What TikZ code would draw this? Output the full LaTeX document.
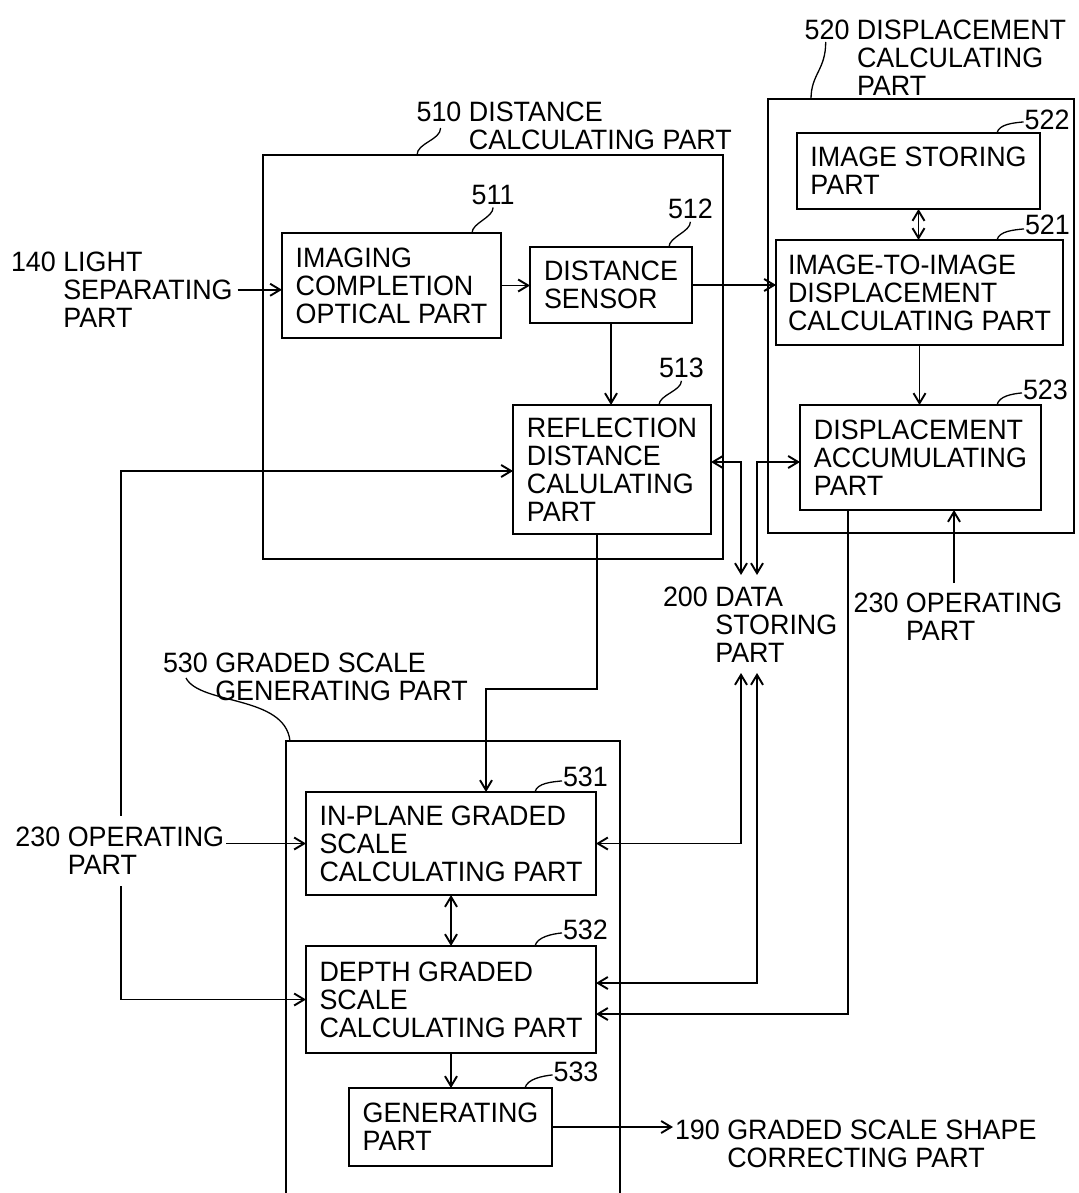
\documentclass[tikz,border=0pt]{standalone}
\usepackage{fontspec}
\setmainfont{Liberation Sans}[FakeStretch=0.96]
\usetikzlibrary{arrows.meta}
\begin{document}
\begin{tikzpicture}[x=1pt,y=-1pt,
  font=\fontsize{28}{28}\selectfont,
  blk/.style={draw, line width=2pt, anchor=north west, align=left, inner sep=0pt, outer sep=0pt},
  txt/.style={anchor=north west, align=left, inner sep=0pt, outer sep=0pt},
  conn/.style={line width=1.9pt, -{Straight Barb[length=10pt,width=12pt]}},
  dconn/.style={line width=1.9pt, {Straight Barb[length=10pt,width=12pt]}-{Straight Barb[length=10pt,width=12pt]}},
  leader/.style={line width=1.3pt}]
\useasboundingbox (0,0) rectangle (1078,1193);

% outer parts
\node[blk, minimum width=460pt, minimum height=404pt] (b510) at (263,155) {};
\node[blk, minimum width=306pt, minimum height=434pt] (b520) at (768,99) {};
\node[blk, minimum width=334pt, minimum height=520pt] (b530) at (286,741) {};

% inner blocks
\node[blk, minimum width=219pt, minimum height=105pt] (b511) at (282,233) {IMAGING\\COMPLETION\\OPTICAL PART};
\node[blk, minimum width=162pt, minimum height=76pt] (b512) at (530,247) {DISTANCE\\SENSOR};
\node[blk, minimum width=198pt, minimum height=129pt] (b513) at (513,405) {REFLECTION\\DISTANCE\\CALULATING\\PART};
\node[blk, minimum width=243pt, minimum height=76pt] (b522) at (797,133) {IMAGE STORING\\PART};
\node[blk, minimum width=287pt, minimum height=105pt] (b521) at (776,240) {IMAGE-TO-IMAGE\\DISPLACEMENT\\CALCULATING PART};
\node[blk, minimum width=241pt, minimum height=105pt] (b523) at (800,405) {DISPLACEMENT\\ACCUMULATING\\PART};
\node[blk, minimum width=290pt, minimum height=103pt] (b531) at (306,792) {IN-PLANE GRADED\\SCALE\\CALCULATING PART};
\node[blk, minimum width=290pt, minimum height=107pt] (b532) at (306,946) {DEPTH GRADED\\SCALE\\CALCULATING PART};
\node[blk, minimum width=203pt, minimum height=78pt] (b533) at (349,1088) {GENERATING\\PART};

% outside labels
\node[txt] (l140) at (11,252) {140 LIGHT\\\hphantom{140}\ SEPARATING\\\hphantom{140}\ PART};
\node[txt] (l510) at (416.6,102) {510 DISTANCE\\\hphantom{510}\ CALCULATING PART};
\node[txt] (l520) at (804.7,20) {520 DISPLACEMENT\\\hphantom{520}\ CALCULATING\\\hphantom{520}\ PART};
\node[txt] (l530) at (163,653) {530 GRADED SCALE\\\hphantom{530}\ GENERATING PART};
\node[txt] (l200) at (663,587) {200 DATA\\\hphantom{200}\ STORING\\\hphantom{200}\ PART};
\node[txt] (l230r) at (853.7,593) {230 OPERATING\\\hphantom{230}\ PART};
\node[txt] (l190) at (675,1120) {190 GRADED SCALE SHAPE\\\hphantom{190}\ CORRECTING PART};

% reference numbers
\node[txt] (n511) at (471.7,185) {511};
\node[txt] (n512) at (668,199) {512};
\node[txt] (n513) at (659,358) {513};
\node[txt] (n522) at (1024.6,110) {522};
\node[txt] (n521) at (1025,215) {521};
\node[txt] (n523) at (1023,380) {523};
\node[txt] (n531) at (563,767) {531};
\node[txt] (n532) at (563,920) {532};
\node[txt] (n533) at (553.6,1062) {533};

% leaders
\draw[leader] ([xshift=24pt,yshift=-26pt]l510.north west) .. controls +(0,12) and +(0,-12) .. ([xshift=154pt]b510.north west);
\draw[leader] ([xshift=21pt,yshift=-22pt]l520.north west) .. controls +(0,28) and +(0,-25) .. ([xshift=43pt]b520.north west);
\draw[leader] ([xshift=23pt,yshift=-25pt]l530.north west) .. controls +(14,27) and +(-5,-46) .. ([xshift=4pt]b530.north west);
\draw[leader] ([yshift=-3pt]n511.south) .. controls +(0,10) and +(0,-10) .. ([xshift=-29pt]b511.north east);
\draw[leader] ([yshift=-3pt]n512.south) .. controls +(0,10) and +(0,-10) .. ([xshift=-23pt]b512.north east);
\draw[leader] ([yshift=-3pt]n513.south) .. controls +(0,10) and +(0,-10) .. ([xshift=-52pt]b513.north east);
\draw[leader] ([xshift=-43pt]b522.north east) .. controls +(2,-9) and +(-10,1) .. ([xshift=-1pt,yshift=-2pt]n522.west);
\draw[leader] ([xshift=-66pt]b521.north east) .. controls +(2,-9) and +(-10,1) .. ([xshift=-1pt,yshift=-4pt]n521.west);
\draw[leader] ([xshift=-44pt]b523.north east) .. controls +(2,-9) and +(-10,1) .. ([xshift=-1pt,yshift=-3pt]n523.west);
\draw[leader] ([xshift=-61pt]b531.north east) .. controls +(2,-9) and +(-10,1) .. ([xshift=-1pt,yshift=-4pt]n531.west);
\draw[leader] ([xshift=-61pt]b532.north east) .. controls +(2,-9) and +(-10,1) .. ([xshift=-1pt,yshift=-3pt]n532.west);
\draw[leader] ([xshift=-27pt]b533.north east) .. controls +(2,-9) and +(-10,1) .. ([xshift=-1pt,yshift=-3pt]n533.west);

% free ends at the data storing part and operating part
\coordinate (ds1) at (741,575);
\coordinate (ds2) at (757,575);
\coordinate (ds3) at (741,673);
\coordinate (ds4) at (757,673);
\coordinate (op2) at (954,583);

% connectors
\draw[conn, shorten <=5pt] (l140.east) -- (b511.west |- l140.east);
\draw[conn] (b511.east) -- (b512.west |- b511.east);
\draw[conn] (b512.east) -- (b521.west |- b512.east);
\draw[conn] (b512.south) -- (b512.south |- b513.north);
\draw[dconn] (b522.south) -- (b522.south |- b521.north);
\draw[conn] (b521.south) -- (b521.south |- b523.north);
\draw[dconn] ([yshift=7.5pt]b513.east) -| (ds1);
\draw[dconn] (ds2) |- ([yshift=-4.5pt]b523.west);
\draw[dconn] (ds3) |- (b531.east);
\draw[dconn] (ds4) |- ([yshift=16.5pt]b532.east);
\draw[conn] ([xshift=-72.5pt]b523.south) |- ([yshift=-14.5pt]b532.east);
\draw[conn] (op2) -- (op2 |- b523.south);
\draw[conn] ([xshift=-15pt]b513.south) -- ++(0,155) -| ([xshift=35pt]b531.north);
\draw[dconn] ([yshift=-1.5pt]b513.west) -- ++(-392,0) |- (b532.west);
\node[txt, fill=white, inner ysep=11pt, inner xsep=2pt] (l230l) at (13.5,816) {230 OPERATING\\\hphantom{230}\ PART};
\draw[conn] (l230l.east |- b531.west) -- (b531.west);
\draw[dconn] (b531.south) -- (b531.south |- b532.north);
\draw[conn] (b532.south) -- (b532.south |- b533.north);
\draw[conn, shorten >=2pt] (b533.east) -- (l190.west |- b533.east);
\end{tikzpicture}
\end{document}
